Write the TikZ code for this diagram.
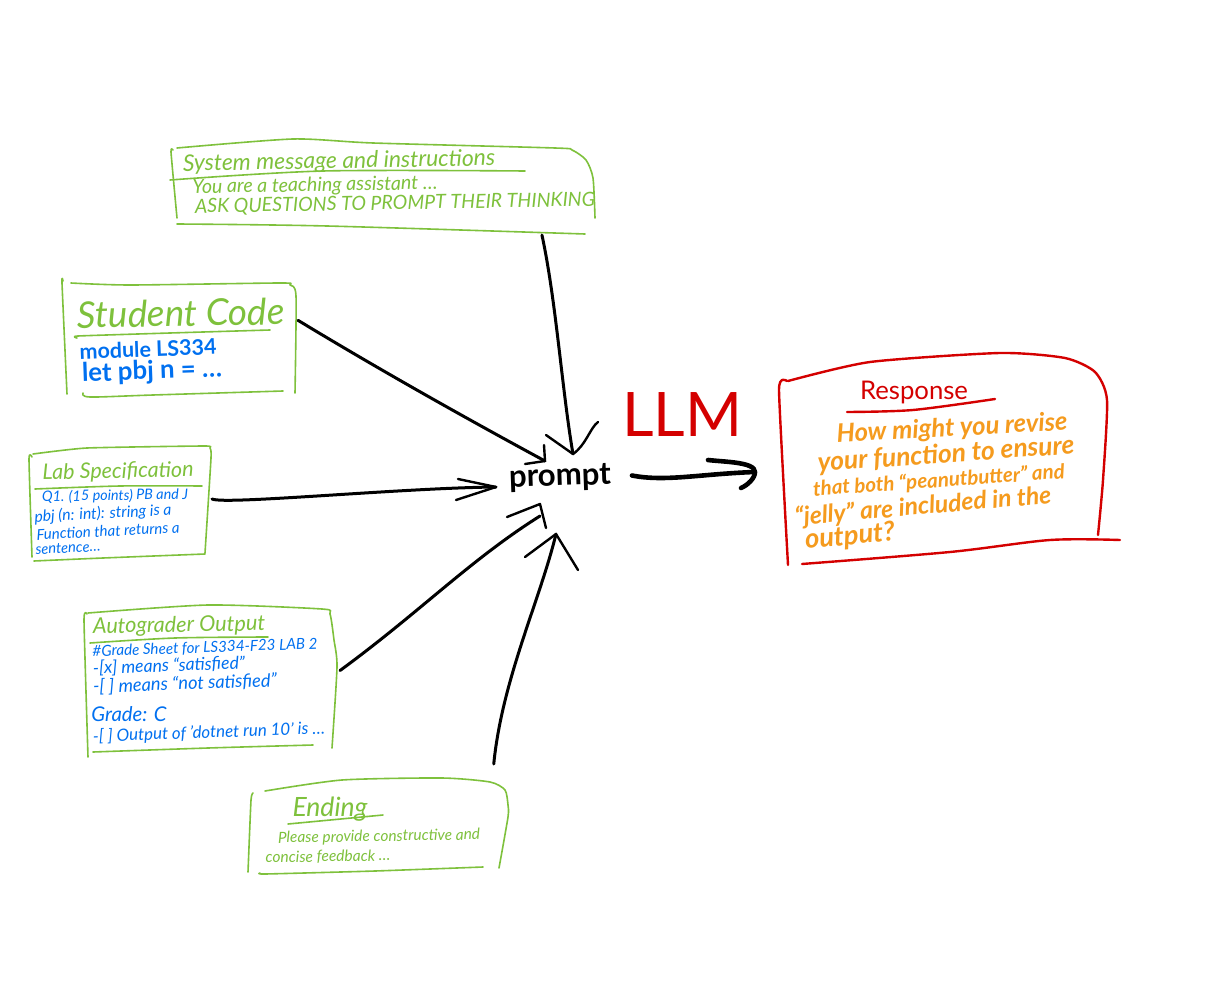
\documentclass[tikz,border=0pt]{standalone}
\usepackage{fontspec}
\setmainfont{Lato}
\usetikzlibrary{calc}
\definecolor{inkgreen}{RGB}{126,193,60}
\definecolor{inkblue}{RGB}{0,112,240}
\definecolor{inkred}{RGB}{212,0,0}
\definecolor{inkorange}{RGB}{245,155,30}
\newcommand\fitw[2]{\resizebox{#1pt}{!}{#2}}
\tikzset{
  region/.style={inner sep=0pt,outer sep=0pt,draw=none},
  gstroke/.style={draw=inkgreen,line width=1.6pt,line cap=round,line join=round},
  rstroke/.style={draw=inkred,line width=2.4pt,line cap=round,line join=round},
  conn/.style={draw=black,line width=3pt,line cap=round,line join=round},
  head/.style={draw=black,line width=2.4pt,line cap=round,line join=round},
  bigconn/.style={draw=black,line width=4.6pt,line cap=round,line join=round},
  gtext/.style={text=inkgreen,inner sep=0pt,font=\itshape},
  btext/.style={text=inkblue,inner sep=0pt,font=\itshape},
  otext/.style={text=inkorange,inner sep=0pt,font=\itshape\bfseries},
  rtext/.style={text=inkred,inner sep=0pt},
}
\begin{document}
\begin{tikzpicture}[x=1pt,y=-1pt]
\useasboundingbox (0,0) rectangle (1225,1000);
\fill[white] (0,0) rectangle (1225,1000);

% regions used as connector ends
\node[region,minimum width=420pt,minimum height=90pt] (sys) at (385,190) {};
\node[region,minimum width=236pt,minimum height=116pt] (student) at (180,339) {};
\node[region,minimum width=188pt,minimum height=120pt] (lab) at (118,499) {};
\node[region,minimum width=262pt,minimum height=146pt] (auto) at (209,682) {};
\node[region,minimum width=258pt,minimum height=122pt] (ending) at (379,825) {};
\node[region,minimum width=329pt,minimum height=212pt] (response) at (942,459) {};

% prompt
\node[region,font=\bfseries,minimum width=144pt,minimum height=48pt,rotate=2] (prompt) at (560,478) {\fitw{102}{prompt}};
\coordinate (tipSys) at ([shift={(13,-24)}]prompt.center);
\coordinate (tipStudent) at ([shift={(-15,-17)}]prompt.center);
\coordinate (tipLab) at ([shift={(-64,9)}]prompt.center);
\coordinate (tipAuto) at ([shift={(-20,38)}]prompt.center);
\coordinate (tipEnding) at ([shift={(-4,56)}]prompt.center);
\coordinate (tipOut) at ([shift={(-23,13)}]response.west);

% system box
\draw[gstroke] plot[smooth,tension=.3] coordinates {(173,150)(171,152)(177,218)};
\draw[gstroke] plot[smooth,tension=.4] coordinates {(177,148)(293,139)(373,143)(555,148)(572,150)(586,160)(593,178)(595,218)};
\draw[gstroke] plot[smooth,tension=.5] coordinates {(177,224)(327,226)(585,234)};
\draw[gstroke] plot[smooth,tension=.5] coordinates {(170,180)(323,171)(525,171)};
\node[gtext,rotate=1] (sysT) at (339,162) {\fitw{312}{System message and instructions}};
\node[gtext,rotate=1] (sysA) at (315,186) {\fitw{245}{You are a teaching assistant \dots}};
\node[gtext,rotate=1] (sysB) at (395,204) {\fitw{400}{ASK QUESTIONS TO PROMPT THEIR THINKING}};

% student box
\draw[gstroke] plot[smooth,tension=.3] coordinates {(63,281)(62,283)(67,394)};
\draw[gstroke] plot[smooth,tension=.4] coordinates {(71,283)(130,285)(280,283)(290,285)(296,296)(295,393)};
\draw[gstroke] plot[smooth,tension=.5] coordinates {(83,393)(90,397)(153,395)(283,391)};
\draw[gstroke] plot[smooth,tension=.3] coordinates {(77,338)(78,336)(170,333)(270,330)};
\node[gtext,rotate=1] (stuT) at (181,313) {\fitw{207}{Student Code}};
\node[btext,font=\bfseries,rotate=2] (stuA) at (148,349) {\fitw{137}{module LS334}};
\node[btext,font=\bfseries,rotate=2] (stuB) at (152,372) {\fitw{140}{let pbj n = \dots}};

% lab box
\draw[gstroke] plot[smooth,tension=.3] coordinates {(33,454)(87,448)(204,446)(210,448)(211,458)(205,553)};
\draw[gstroke] plot[smooth,tension=.3] coordinates {(32,457)(29,459)(32,557)};
\draw[gstroke] plot[smooth,tension=.5] coordinates {(34,561)(103,558)(205,554)};
\draw[gstroke] plot[smooth,tension=.5] coordinates {(35,489)(120,486)(202,486)};
\node[gtext,rotate=1] (labT) at (118,472) {\fitw{151}{Lab Specification}};
\node[btext,rotate=1] (labA) at (115,496) {\fitw{146}{Q1. (15 points) PB and J}};
\node[btext,rotate=3] (labB) at (103,514) {\fitw{137}{pbj (n: int): string is a}};
\node[btext,rotate=3] (labC) at (108,531) {\fitw{143}{Function that returns a}};
\node[btext,rotate=3] (labD) at (68,548) {\fitw{65}{sentence\dots}};

% autograder box
\draw[gstroke] plot[smooth,tension=.3] coordinates {(87,614)(84,620)(88,757)};
\draw[gstroke] plot[smooth,tension=.4] coordinates {(88,613)(208,605)(322,609)(330,614)(334,640)(337,667)(332,748)};
\draw[gstroke] plot[smooth,tension=.5] coordinates {(93,752)(208,748)(313,745)};
\draw[gstroke] plot[smooth,tension=.5] coordinates {(90,643)(175,638)(268,637)};
\node[gtext,rotate=1] (autT) at (179,626) {\fitw{172}{Autograder Output}};
\node[btext,rotate=2] (autA) at (205,648) {\fitw{225}{\#Grade Sheet for LS334-F23 LAB 2}};
\node[btext,rotate=2] (autB) at (169,666) {\fitw{152}{-[x] means “satisfied”}};
\node[btext,rotate=2] (autC) at (185,684) {\fitw{184}{-[ ] means “not satisfied”}};
\node[btext] (autD) at (129,714) {\fitw{75}{Grade: C}};
\node[btext,rotate=2] (autE) at (209,733) {\fitw{232}{-[ ] Output of 'dotnet run 10' is \dots}};

% ending box
\draw[gstroke] plot[smooth,tension=.3] coordinates {(253,793)(251,800)(248,872)};
\draw[gstroke] plot[smooth,tension=.4] coordinates {(265,791)(342,780)(442,778)(490,782)(505,790)(508,805)(508,817)(499,868)};
\draw[gstroke] plot[smooth,tension=.3] coordinates {(260,873)(265,874)(375,871)(483,867)};
\draw[gstroke] plot[smooth,tension=.5] coordinates {(288,824)(383,815)};
\node[gtext] (endT) at (330,809) {\fitw{75}{Ending}};
\node[gtext,rotate=1] (endA) at (379,837) {\fitw{202}{Please provide constructive and}};
\node[gtext,rotate=1] (endB) at (328,857) {\fitw{125}{concise feedback \dots}};

% response box
\draw[rstroke] plot[smooth,tension=.3] coordinates {(787,381)(779,390)(788,565)};
\draw[rstroke] plot[smooth,tension=.4] coordinates {(788,381)(870,362)(1000,353)(1065,358)(1095,372)(1107,400)(1103,480)(1098,535)};
\draw[rstroke] plot[smooth,tension=.5] coordinates {(802,564)(950,552)(1050,540)(1120,540)};
\draw[rstroke] plot[smooth,tension=.5] coordinates {(847,412)(913,410)(995,399)};
\node[rtext] (resT) at (914,392) {\fitw{108}{Response}};
\node[otext,rotate=3] (resA) at (952,429) {\fitw{231}{How might you revise}};
\node[otext,rotate=4] (resB) at (946,455) {\fitw{257}{your function to ensure}};
\node[otext,rotate=4] (resC) at (939,481) {\fitw{252}{that both “peanutbutter” and}};
\node[otext,rotate=5] (resD) at (923,507) {\fitw{257}{“jelly” are included in the}};
\node[otext,rotate=5] (resE) at (850,537) {\fitw{90}{output?}};

% LLM
\node[rtext] (llm) at (682,415) {\fitw{120}{LLM}};

% connectors
\draw[conn] (sys.-16) .. controls (556,300) and (562,390) .. (tipSys);
\draw[head] (546,435) -- (tipSys) .. controls (586,445) and (590,428) .. (598,422);
\draw[conn] (student.9) .. controls (375,367) and (460,415) .. (tipStudent);
\draw[head] (544,445) -- (tipStudent) -- (525,464);
\draw[conn] (lab.east) .. controls (225,505) and (400,488) .. (tipLab);
\draw[head] (458,479) -- (tipLab) -- (456,500);
\draw[conn] (auto.5.7) .. controls (420,612) and (470,560) .. (tipAuto);
\draw[head] (507,517) -- (540,504) -- (546,528);
\draw[conn] (ending.28.6) .. controls (502,680) and (540,600) .. (tipEnding);
\draw[head] (525,557) -- (tipEnding) -- (578,570);
\draw[bigconn] (prompt.east) .. controls (665,482) and (700,474) .. (tipOut);
\draw[bigconn] (708,460) .. controls (725,462) and (755,462) .. (755,472) .. controls (755,478) and (748,485) .. (741,488);
\end{tikzpicture}
\end{document}
